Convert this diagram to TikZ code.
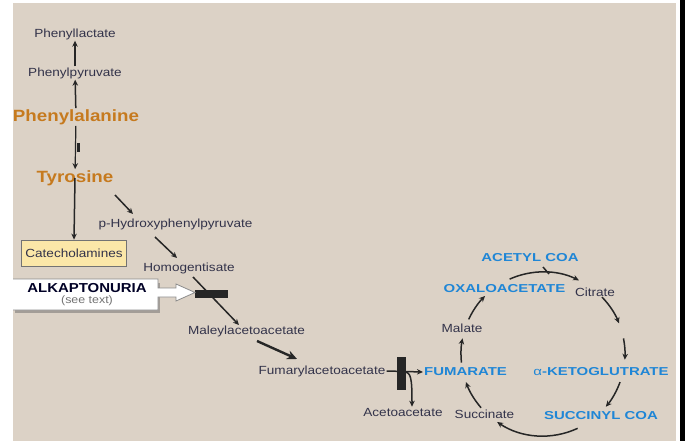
\documentclass[tikz,border=0pt]{standalone}
\usepackage{fontspec}
\setmainfont{Liberation Sans}[FakeStretch=1.15]
\newfontfamily\bluefam{Liberation Sans}[FakeStretch=1.3]
\usetikzlibrary{arrows.meta,calc}
\definecolor{bg}{HTML}{DCD2C6}
\definecolor{txt}{HTML}{33334A}
\definecolor{orgc}{HTML}{C67A1E}
\definecolor{blu}{HTML}{1F86D6}
\definecolor{ln}{HTML}{262626}
\definecolor{catfill}{HTML}{FBE7A8}
\definecolor{shadowc}{HTML}{A39D97}
\begin{document}
\begin{tikzpicture}[x=1pt,y=-1pt,
  lbl/.style={text=txt, font=\fontsize{11.8}{13}\selectfont, inner sep=1pt},
  orgt/.style={text=orgc, font=\bfseries\fontsize{16.3}{18}\selectfont, inner sep=1pt},
  bl/.style={text=blu, font=\bluefam\bfseries\fontsize{11.5}{13}\selectfont, inner sep=1pt},
  arr/.style={draw=ln, line width=1.5pt, -{Stealth[length=6pt,width=5.5pt]}},
  cyc/.style={draw=ln, line width=1.5pt, -{Stealth[length=6pt,width=5.5pt]}},
  blockbar/.style={fill=ln, draw=none, inner sep=0pt},
]
% background and margins
\fill[white] (0,0) rectangle (685,441);
\fill[bg] (13,3) rectangle (676,441);
\fill[black] (680,0) rectangle (685,441);
\useasboundingbox (0,0) rectangle (685,441);

% phenylalanine branch
\node[lbl] (plac) at (75,34) {Phenyllactate};
\node[lbl] (ppyr) at (75,73) {Phenylpyruvate};
\node[orgt] (phe) at (76,117) {Phenylalanine};
\node[orgt] (tyr) at (75,178) {Tyrosine};
\node[lbl, fill=catfill, draw=black!55, line width=0.8pt, minimum width=105pt, minimum height=26pt, inner sep=2pt] (cat) at (74,253) {Catecholamines};

\draw[arr] (ppyr) -- (plac);
\draw[arr] (phe) -- (ppyr);
\draw[arr, line width=1.2pt] (phe) -- (tyr);
\node[blockbar, minimum width=3pt, minimum height=9pt] (pkublk) at ($(phe)!0.5!(tyr)+(2.5,0)$) {};
\draw[arr] (tyr.center) -- (cat.north);

% tyrosine degradation
\node[lbl] (hpp) at (175.5,224) {p-Hydroxyphenylpyruvate};
\node[lbl] (hga) at (189,268) {Homogentisate};
\node[lbl] (maa) at (246.5,331) {Maleylacetoacetate};
\node[lbl] (faa) at (322,371) {Fumarylacetoacetate};
\node[lbl] (aca) at (403,412) {Acetoacetate};

\coordinate (t1) at (115,195);
\coordinate (t2) at (133,214);
\draw[arr] (t1) -- (t2);
\coordinate (h1) at (155,237);
\coordinate (h2) at (177,258);
\draw[arr] (h1) -- (h2);
\coordinate (g1) at (193,277);
\coordinate (g2) at (239,325);
\draw[arr] (g1) -- (g2);
\node[blockbar, minimum width=33pt, minimum height=8.5pt] (hgdblk) at (211.5,294) {};
\coordinate (m1) at (257,341);
\coordinate (m2) at (297,359);
\draw[draw=ln, line width=2.4pt, -{Stealth[length=10pt,width=9pt]}] (m1) -- (m2);

% alkaptonuria callout
\fill[shadowc] (15,283) -- (160,283) -- (160,313) -- (15,313) -- cycle;
\filldraw[fill=white, draw=black!45, line width=0.8pt]
  (13,279) -- (158,279) -- (158,288) -- (176,288) -- (176,284) -- (195,292.5)
  -- (176,301) -- (176,297) -- (158,297) -- (158,310) -- (13,310);
\node[text=black!85!blue, font=\bfseries\fontsize{13}{15}\selectfont, inner sep=1pt] (alk) at (87,288) {ALKAPTONURIA};
\node[text=black!55, font=\fontsize{10.8}{12}\selectfont, inner sep=1pt] (seetxt) at (87,301) {(see text)};

% fumarylacetoacetate split
\node[bl] (fum) at (465.5,372) {FUMARATE};
\node[blockbar, minimum width=9pt, minimum height=33pt] (fahblk) at (401.5,373.5) {};
\draw[arr] (faa.east) -- (fum.west);
\coordinate (sp) at (404,372);
\draw[arr] (sp) .. controls (411,372) and (412,378) .. (aca.north -| 412,0);

% TCA cycle
\node[bl] (acoa) at (530,258) {ACETYL COA};
\node[bl] (oaa) at (504.5,289) {OXALOACETATE};
\node[lbl] (cit) at (595,292) {Citrate};
\node[bl] (akg) at (601,372) {{\mdseries α}-KETOGLUTRATE};
\node[bl] (scoa) at (601,416) {SUCCINYL COA};
\node[lbl] (succ) at (484.5,414) {Succinate};
\node[lbl] (malt) at (462,328) {Malate};

\coordinate (cc) at (543,354);
\draw[cyc] ($(cc)+(246:82)$) arc[start angle=246, end angle=296, radius=82];
\draw[cyc] ($(cc)+(316:82)$) arc[start angle=316, end angle=338, radius=82];
\draw[cyc] ($(cc)+(349:82)$) arc[start angle=349, end angle=364, radius=82];
\draw[cyc] ($(cc)+(20:82)$) arc[start angle=20, end angle=40, radius=82];
\draw[cyc] ($(cc)+(65:82)$) arc[start angle=65, end angle=124, radius=82];
\draw[cyc] ($(cc)+(139:82)$) arc[start angle=139, end angle=160, radius=82];
\draw[cyc] ($(cc)+(174:82)$) arc[start angle=174, end angle=191, radius=82];
\draw[cyc] ($(cc)+(205:82)$) arc[start angle=205, end angle=225, radius=82];
\coordinate (ac1) at (543,267);
\coordinate (ac2) at (549,274);
\draw[draw=ln, line width=1.5pt] (ac1) -- (ac2);
\end{tikzpicture}
\end{document}
